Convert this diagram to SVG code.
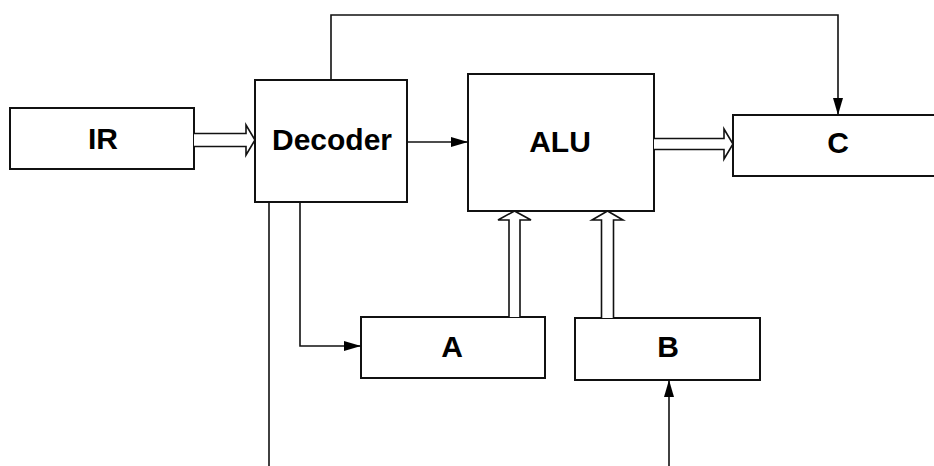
<svg xmlns="http://www.w3.org/2000/svg" width="934" height="466" viewBox="0 0 934 466">
<style>
.box{fill:#fff;stroke:#111;stroke-width:2}
.lbl{font-family:"Liberation Sans",Arial,sans-serif;font-weight:bold;font-size:30px;fill:#000;text-anchor:middle}
.ln{fill:none;stroke:#111;stroke-width:1.6}
.hollow{fill:#fff;stroke:#111;stroke-width:1.6;stroke-linejoin:miter}
</style>
<defs>
<marker id="ah" markerWidth="18" markerHeight="12" refX="17" refY="6" orient="auto" markerUnits="userSpaceOnUse">
<path d="M0,1 L17,6 L0,11 Z" fill="#000"/>
</marker>
</defs>
<rect width="934" height="466" fill="#fff"/>
<g id="IR"><rect class="box" x="10" y="108" width="184" height="61"/><text class="lbl" x="103" y="149">IR</text></g>
<g id="Decoder"><rect class="box" x="255" y="80" width="152" height="122"/><text class="lbl" x="332" y="150">Decoder</text></g>
<g id="ALU"><rect class="box" x="468" y="74" width="186" height="137"/><text class="lbl" x="560" y="152">ALU</text></g>
<g id="C"><rect class="box" x="733" y="115" width="210" height="61"/><text class="lbl" x="838" y="153">C</text></g>
<g id="A"><rect class="box" x="361" y="317" width="184" height="61"/><text class="lbl" x="452" y="357">A</text></g>
<g id="B"><rect class="box" x="575" y="318" width="185" height="62"/><text class="lbl" x="668" y="357">B</text></g>
<g id="connectors">
<path class="hollow" d="M194,133.5 L246,133.5 L246,125 L255,140 L246,155 L246,146.5 L194,146.5"/>
<path class="hollow" d="M654,138.5 L724,138.5 L724,129 L733,144 L724,159 L724,149.5 L654,149.5"/>
<path class="hollow" d="M509,317 L509,220 L498,220 L514.5,211 L531,220 L520,220 L520,317"/>
<path class="hollow" d="M601.5,318 L601.5,220 L592,220 L607.5,211 L623,220 L613.5,220 L613.5,318"/>
<path class="ln" d="M407,142 L468,142" marker-end="url(#ah)"/>
<path class="ln" d="M331,80 L331,15 L838,15 L838,115" marker-end="url(#ah)"/>
<path class="ln" d="M300,202 L300,346 L361,346" marker-end="url(#ah)"/>
<path class="ln" d="M269,202 L269,466"/>
<path class="ln" d="M669,466 L669,380" marker-end="url(#ah)"/>
</g>
</svg>
